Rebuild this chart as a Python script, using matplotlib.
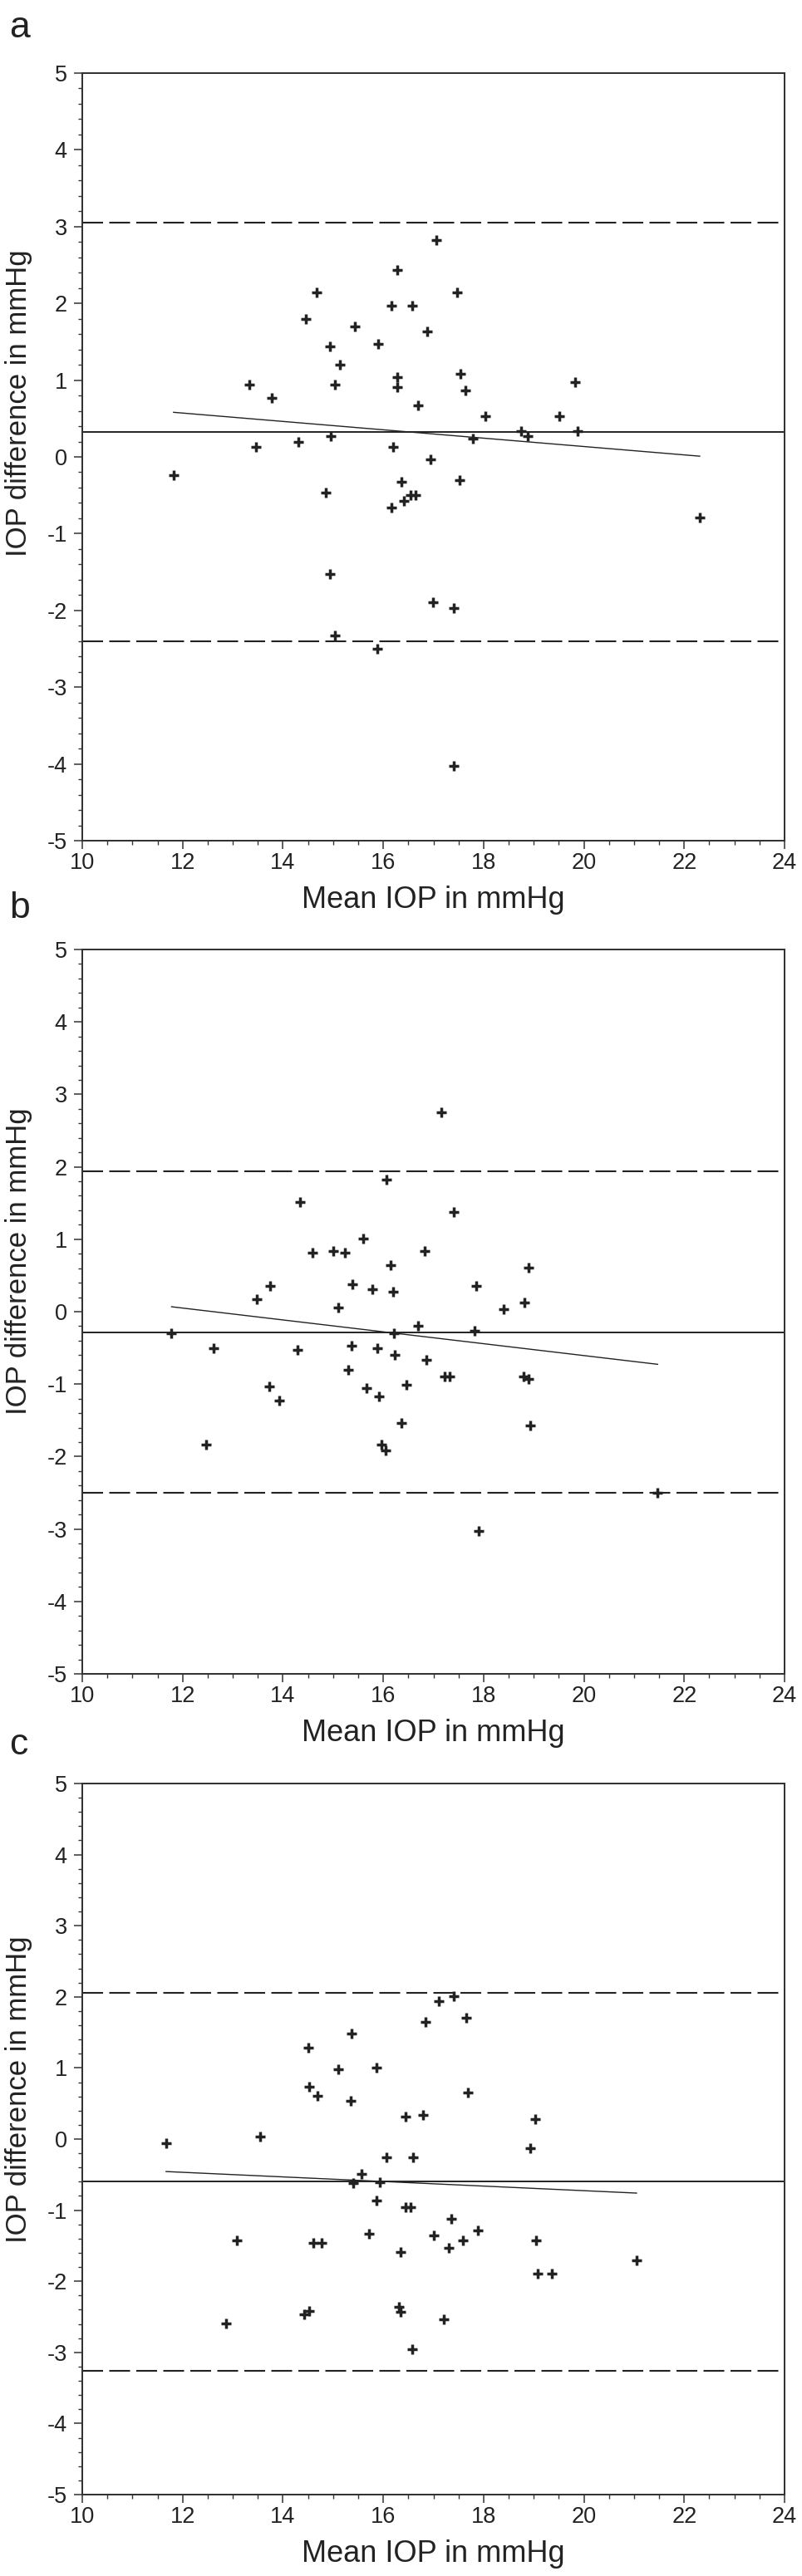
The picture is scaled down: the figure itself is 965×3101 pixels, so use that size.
import matplotlib
matplotlib.use("Agg")
import matplotlib.pyplot as plt
from matplotlib.ticker import MultipleLocator
import numpy as np

plt.rcParams['font.family'] = ['Liberation Sans', 'DejaVu Sans']
plt.rcParams['axes.unicode_minus'] = False

# panel a
a_mean = [17.06, 16.28, 14.67, 17.48, 16.17, 16.58, 14.46, 15.44, 16.88, 15.89,
          14.94, 15.13, 16.28, 17.54, 13.33, 15.03, 16.28, 17.64, 13.78, 16.70,
          18.04, 19.82, 19.51, 18.74, 18.88, 19.88, 17.79, 14.96, 14.30, 13.46,
          16.19, 16.95, 11.82, 16.36, 17.53, 14.86, 16.41, 16.54, 16.65, 16.16,
          14.93, 16.99, 17.40, 15.03, 15.88, 17.40, 22.31]
a_diff = [2.83, 2.44, 2.14, 2.14, 1.97, 1.97, 1.80, 1.70, 1.63, 1.47,
          1.44, 1.20, 1.04, 1.08, 0.94, 0.94, 0.91, 0.87, 0.77, 0.67,
          0.53, 0.97, 0.53, 0.34, 0.27, 0.34, 0.24, 0.27, 0.20, 0.13,
          0.13, -0.03, -0.24, -0.33, -0.30, -0.46, -0.57, -0.50, -0.50, -0.66,
          -1.53, -1.89, -1.97, -2.33, -2.50, -4.03, -0.79]

# panel b
b_mean = [17.15, 16.06, 14.34, 17.40, 15.60, 14.59, 15.00, 15.23, 16.82, 16.15,
          18.89, 13.74, 15.38, 15.78, 16.19, 17.85, 13.48, 18.82, 15.10, 18.40,
          16.69, 17.82, 11.78, 16.21, 12.61, 14.29, 15.36, 15.88, 16.23, 16.86,
          15.30, 17.22, 17.33, 18.79, 18.89, 13.72, 15.66, 16.46, 15.91, 13.92,
          16.37, 18.93, 12.47, 15.97, 16.05, 21.47, 17.90]
b_diff = [2.75, 1.82, 1.51, 1.38, 1.01, 0.81, 0.84, 0.81, 0.84, 0.64,
          0.61, 0.35, 0.38, 0.31, 0.28, 0.35, 0.17, 0.13, 0.06, 0.03,
          -0.20, -0.26, -0.30, -0.30, -0.50, -0.53, -0.47, -0.50, -0.60, -0.67,
          -0.80, -0.90, -0.90, -0.90, -0.93, -1.03, -1.06, -1.01, -1.17, -1.23,
          -1.54, -1.57, -1.84, -1.84, -1.91, -2.50, -3.03]

# panel c
c_mean = [17.40, 17.11, 16.84, 17.65, 15.36, 14.50, 15.11, 15.86, 14.53, 14.69,
          15.35, 17.69, 16.45, 16.80, 19.03, 13.54, 11.67, 18.93, 16.06, 16.59,
          15.57, 15.40, 15.93, 15.86, 16.44, 16.55, 17.35, 17.89, 15.71, 17.00,
          17.59, 19.05, 13.08, 14.60, 14.77, 17.30, 16.35, 21.05, 19.08, 19.36,
          16.31, 16.35, 14.52, 14.42, 17.20, 12.86, 16.58]
c_diff = [2.01, 1.94, 1.65, 1.70, 1.48, 1.28, 0.98, 1.01, 0.74, 0.61,
          0.54, 0.65, 0.31, 0.34, 0.28, 0.04, -0.06, -0.13, -0.26, -0.26,
          -0.49, -0.62, -0.61, -0.86, -0.96, -0.96, -1.12, -1.29, -1.33, -1.36,
          -1.43, -1.43, -1.43, -1.46, -1.46, -1.53, -1.59, -1.70, -1.89, -1.89,
          -2.36, -2.43, -2.42, -2.46, -2.53, -2.59, -2.96]

# bias, limits of agreement and regression (slope, intercept) per panel
bias = [0.325, -0.29, -0.60]
upper_loa = [3.05, 1.935, 2.057]
lower_loa = [-2.40, -2.50, -3.255]
reg_slope = [-0.0545, -0.0820, -0.0323]
reg_icpt = [1.225, 1.034, -0.080]

panel_letters = ["a", "b", "c"]
x_label = "Mean IOP in mmHg"
y_label = "IOP difference in mmHg"

W, H = 965, 3101
ink = "#222222"
# axes rectangles in pixels: left, top, right, bottom
boxes = [(99, 88, 944, 1012), (99, 1143, 944, 2015), (99, 2147, 944, 3003)]
letter_base = [45, 1105, 2112]

fig = plt.figure(figsize=(W / 100, H / 100), dpi=100)
data = [(a_mean, a_diff), (b_mean, b_diff), (c_mean, c_diff)]

for i, (xs, ys) in enumerate(data):
    l, t, r, b = boxes[i]
    ax = fig.add_axes([l / W, 1 - b / H, (r - l) / W, (b - t) / H])
    xs = np.array(xs)
    ys = np.array(ys)

    ax.axhline(upper_loa[i], color=ink, lw=1.5, dashes=(12, 3.6))
    ax.axhline(lower_loa[i], color=ink, lw=1.5, dashes=(12, 3.6))
    ax.axhline(bias[i], color=ink, lw=1.4)
    rx = np.array([xs.min(), xs.max()])
    ax.plot(rx, reg_icpt[i] + reg_slope[i] * rx, color=ink, lw=1.0)
    ax.plot(xs, ys, linestyle="none", marker="+", markersize=9,
            markeredgewidth=2.5, color=ink)

    ax.set_xlim(10, 24)
    ax.set_ylim(-5, 5)
    ax.xaxis.set_major_locator(MultipleLocator(2))
    ax.xaxis.set_minor_locator(MultipleLocator(0.5))
    ax.yaxis.set_major_locator(MultipleLocator(1))
    ax.yaxis.set_minor_locator(MultipleLocator(0.2))
    ax.tick_params(which="major", direction="out", length=7.2, width=1.1,
                   color="#333333", labelsize=19.5, labelcolor=ink)
    ax.tick_params(which="minor", direction="out", length=3.6, width=1.0,
                   color="#333333")
    ax.tick_params(axis="x", which="major", pad=3)
    ax.tick_params(axis="y", which="major", pad=6)
    for sp in ax.spines.values():
        sp.set_linewidth(1.45)
        sp.set_color("#333333")

    ax.set_xlabel(x_label, fontsize=26, color=ink, labelpad=10)
    ax.set_ylabel(y_label, fontsize=25, color=ink)
    ax.yaxis.set_label_coords(-(l - 39) / (r - l), 0.57)

    fig.text(11 / W, 1 - letter_base[i] / H, panel_letters[i], fontsize=32,
             color=ink, ha="left", va="baseline")

fig.savefig("out.png", dpi=100)
